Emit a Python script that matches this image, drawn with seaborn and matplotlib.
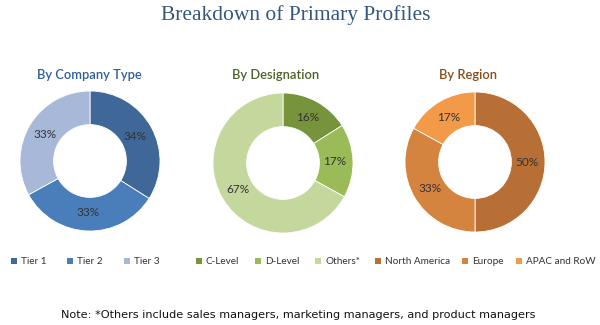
import matplotlib
matplotlib.use("Agg")
import matplotlib.pyplot as plt
from matplotlib.patches import Patch
import numpy as np
import seaborn as sns

sns.set_theme(style="white")
plt.rcParams['font.family'] = ['Lato', 'DejaVu Sans']

# Data
company_labels = ["Tier 1", "Tier 2", "Tier 3"]
company_values = [34, 33, 33]
designation_labels = ["C-Level", "D-Level", "Others*"]
designation_values = [16, 17, 67]
region_labels = ["North America", "Europe", "APAC and RoW"]
region_values = [50, 33, 17]

company_colors = ["#3F6898", "#4A7EBB", "#A7B8D8"]
designation_colors = ["#77933C", "#9BBB59", "#C4D79C"]
region_colors = ["#B86F36", "#D4843E", "#F29A48"]

W, H = 600, 325
fig = plt.figure(figsize=(6, 3.25), dpi=100)
fig.patch.set_facecolor("white")

fig.text(296 / W, 1 - 15 / H, "Breakdown of Primary Profiles", ha="center", va="center",
         family="Liberation Serif", fontsize=15.5, color="#34577F")

panels = [
    ("By Company Type", company_labels, company_values, company_colors, (90, 161), "#2E5F96", 89),
    ("By Designation", designation_labels, designation_values, designation_colors, (283, 163), "#4F6228", 276),
    ("By Region", region_labels, region_values, region_colors, (475, 162), "#8B4A16", 468),
]
legend_centers = [(85, 262), (278, 262), (485, 262)]
col_spacings = [2.1, 1.6, 1.2]

r = 70
for (title, labels, values, colors, (cx, cy), tcol, tx), (lx, ly), cs in zip(panels, legend_centers, col_spacings):
    ax = fig.add_axes([(cx - r) / W, (H - cy - r) / H, 2 * r / W, 2 * r / H])
    wedges, _ = ax.pie(values, colors=colors, startangle=90, counterclock=False,
                       radius=1, wedgeprops=dict(width=0.48, edgecolor="white", linewidth=0.6))
    total = sum(values)
    start = 90.0
    for v in values:
        mid = start - v / total * 360 / 2
        start -= v / total * 360
        rr = 0.74
        ax.text(rr * np.cos(np.deg2rad(mid)), rr * np.sin(np.deg2rad(mid)), f"{v}%",
                ha="center", va="center", fontsize=8.5, color="#333333")
    ax.set_xlim(-1, 1)
    ax.set_ylim(-1, 1)
    ax.set_aspect("equal")
    ax.axis("off")
    fig.text(tx / W, 1 - 75 / H, title, ha="center", va="center", fontsize=9.3,
             fontweight="semibold", color=tcol)
    handles = [Patch(facecolor=c, edgecolor="none", label=l) for c, l in zip(colors, labels)]
    fig.legend(handles=handles, loc="center", bbox_to_anchor=(lx / W, 1 - ly / H), ncol=3,
               frameon=False, fontsize=7.2, handlelength=0.6, handleheight=0.6,
               handletextpad=0.4, columnspacing=cs, labelcolor="#333333")

fig.text(298 / W, 1 - 315 / H,
         "Note: *Others include sales managers, marketing managers, and product managers",
         ha="center", va="center", family="DejaVu Sans", fontsize=8.1, color="#111111")

fig.savefig("out.png", dpi=100, facecolor="white")
